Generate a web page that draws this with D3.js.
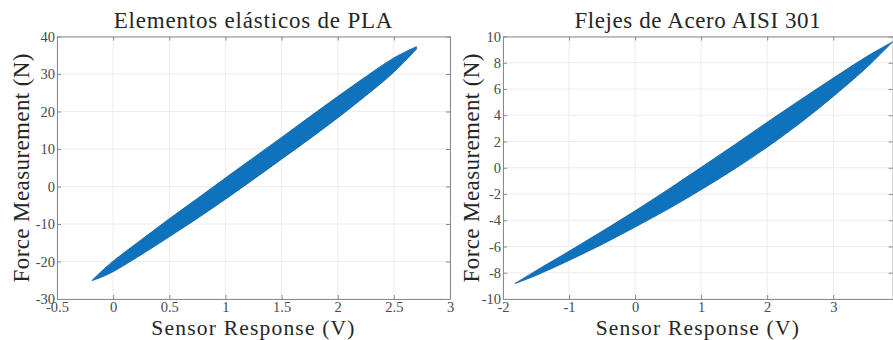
<!DOCTYPE html>
<html>
<head>
<meta charset="utf-8">
<script src="https://cdn.jsdelivr.net/npm/d3@7/dist/d3.min.js"></script>
<style>
  html, body { margin: 0; padding: 0; background: #ffffff; }
  svg { display: block; }
  text { font-family: "Liberation Serif", "DejaVu Serif", serif; }
</style>
</head>
<body>
<svg id="chart" width="893" height="340"></svg>
<script>
// Left panel: PLA elastic elements — hysteresis band (loading / unloading branches)
const plaVoltage   = [-0.19, -0.1, 0, 0.25, 0.5, 0.75, 1, 1.25, 1.5, 1.75, 2, 2.25, 2.5, 2.7];
const plaLoading   = [-25.1, -22.5, -19.9, -14.2, -8.6, -3.2, 2.3, 7.7, 13.1, 18.6, 24.0, 29.3, 34.3, 37.3];
const plaUnloading = [-25.1, -24.1, -22.7, -18.2, -13.4, -8.5, -3.4, 1.9, 7.3, 12.7, 18.3, 24.2, 30.5, 36.6];
const plaXTicks = [-0.5, 0, 0.5, 1, 1.5, 2, 2.5, 3];
const plaYTicks = [-30, -20, -10, 0, 10, 20, 30, 40];

// Right panel: AISI 301 steel strips
const steelVoltage   = [-1.82, -1.5, -1, -0.5, 0, 0.5, 1, 1.5, 2, 2.5, 3, 3.5, 3.9];
const steelLoading   = [-8.82, -7.84, -6.36, -4.84, -3.28, -1.65, 0.03, 1.73, 3.47, 5.17, 6.83, 8.45, 9.6];
const steelUnloading = [-8.82, -8.20, -7.06, -5.84, -4.52, -3.15, -1.67, -0.11, 1.57, 3.41, 5.43, 7.61, 9.6];
const steelXTicks = [-2, -1, 0, 1, 2, 3];
const steelYTicks = [-10, -8, -6, -4, -2, 0, 2, 4, 6, 8, 10];

const titles = ["Elementos elásticos de PLA", "Flejes de Acero AISI 301"];
const xLabel = "Sensor Response (V)";
const yLabel = "Force Measurement (N)";

const svg = d3.select("#chart");
const blue = "#0f72bd";

function panel(cfg) {
  const g = svg.append("g");
  const x = d3.scaleLinear().domain(cfg.xDomain).range([cfg.left, cfg.right]);
  const y = d3.scaleLinear().domain(cfg.yDomain).range([cfg.bottom, cfg.top]);

  // grid
  g.append("g").selectAll("line").data(cfg.xTicks).join("line")
    .attr("x1", d => x(d)).attr("x2", d => x(d))
    .attr("y1", cfg.top).attr("y2", cfg.bottom)
    .attr("stroke", "#ececec").attr("stroke-width", 1);
  g.append("g").selectAll("line").data(cfg.yTicks).join("line")
    .attr("x1", cfg.left).attr("x2", cfg.right)
    .attr("y1", d => y(d)).attr("y2", d => y(d))
    .attr("stroke", "#ececec").attr("stroke-width", 1);

  // hysteresis band: loading branch out, unloading branch back
  const up = cfg.v.map((v, i) => [x(v), y(cfg.load[i])]);
  const down = cfg.v.map((v, i) => [x(v), y(cfg.unload[i])]).reverse();
  const line = d3.line().curve(d3.curveCatmullRom.alpha(0.5));
  const d = line(up) + "L" + line(down).slice(1) + "Z";
  g.append("path").attr("d", d)
    .attr("fill", blue).attr("stroke", "#1a69a8").attr("stroke-width", 0.9)
    .attr("stroke-linejoin", "round");

  // axes with inward ticks on all four sides
  const axisColor = "#8a8a8a";
  const style = sel => {
    sel.selectAll("path, line").attr("stroke", axisColor);
    sel.selectAll("text").attr("fill", "#4a4a4a")
      .style("font-family", "'Liberation Serif', serif").style("font-size", "14.5px");
  };
  g.append("g").attr("transform", `translate(0,${cfg.bottom})`)
    .call(d3.axisBottom(x).tickValues(cfg.xTicks).tickSizeInner(-4).tickSizeOuter(0)
      .tickPadding(3).tickFormat(d3.format("")))
    .call(style);
  g.append("g").attr("transform", `translate(${cfg.left},0)`)
    .call(d3.axisLeft(y).tickValues(cfg.yTicks).tickSizeInner(-4).tickSizeOuter(0)
      .tickPadding(2).tickFormat(d3.format("")))
    .call(style);
  g.append("g").attr("transform", `translate(0,${cfg.top})`)
    .call(d3.axisTop(x).tickValues(cfg.xTicks).tickSizeInner(-4).tickSizeOuter(0).tickFormat(""))
    .call(style);
  g.append("g").attr("transform", `translate(${cfg.right},0)`)
    .call(d3.axisRight(y).tickValues(cfg.yTicks).tickSizeInner(-4).tickSizeOuter(0).tickFormat(""))
    .call(style);
  g.selectAll(".domain").attr("fill", "none");
  // minus signs drawn as plain hyphens
  g.selectAll(".tick text").text(function () { return this.textContent.replace("\u2212", "-"); });

  const cx = (cfg.left + cfg.right) / 2;
  g.append("text").attr("x", cx).attr("y", 28).attr("text-anchor", "middle")
    .attr("fill", "#262626").style("font-size", "23px").style("letter-spacing", cfg.titleSpacing)
    .text(cfg.title);
  g.append("text").attr("x", cx).attr("y", 335).attr("text-anchor", "middle")
    .attr("fill", "#262626").style("font-size", "21.5px").style("letter-spacing", "1.2px")
    .text(xLabel);
  g.append("text").attr("transform", `translate(${cfg.yLabelX},${(cfg.top + cfg.bottom) / 2}) rotate(-90)`)
    .attr("text-anchor", "middle").attr("fill", "#262626").style("font-size", "23px")
    .style("letter-spacing", "0.4px").text(yLabel);
}

panel({
  left: 57, right: 450, top: 36.5, bottom: 299,
  xDomain: [-0.5, 3], yDomain: [-30, 40],
  xTicks: plaXTicks, yTicks: plaYTicks,
  v: plaVoltage, load: plaLoading, unload: plaUnloading,
  title: titles[0], titleSpacing: "0.8px", yLabelX: 29
});
panel({
  left: 503, right: 892.7, top: 36.5, bottom: 299,
  xDomain: [-2, 3.9], yDomain: [-10, 10],
  xTicks: steelXTicks, yTicks: steelYTicks,
  v: steelVoltage, load: steelLoading, unload: steelUnloading,
  title: titles[1], titleSpacing: "0.6px", yLabelX: 479
});
</script>
</body>
</html>
